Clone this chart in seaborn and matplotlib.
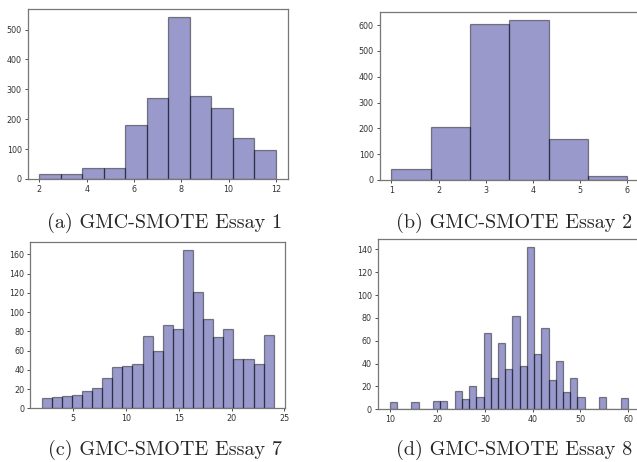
import matplotlib
matplotlib.use("Agg")
import matplotlib.pyplot as plt
import seaborn as sns

# Essay 1: Scores 2..12, eine Klasse pro Score
essay1_scores = [2, 3, 4, 5, 6, 7, 8, 9, 10, 11, 12]
essay1_counts = [15, 15, 36, 36, 181, 272, 541, 277, 238, 137, 97]

# Essay 2: Scores 1..6
essay2_scores = [1, 2, 3, 4, 5, 6]
essay2_counts = [42, 207, 603, 621, 157, 15]

# Essay 7: Scores 2..24
essay7_scores = list(range(2, 25))
essay7_counts = [11, 12, 13, 14, 18, 21, 32, 43, 44, 46, 75, 60,
                 87, 83, 165, 121, 93, 74, 83, 51, 51, 46, 76]

# Essay 8: Scores 10..60 (33 bins)
essay8_scores = [10, 15, 20, 21, 25, 26, 28, 29, 31, 32, 34, 35, 37, 38,
                 40, 41, 43, 44, 46, 47, 49, 50, 55, 60]
essay8_counts = [6, 6, 7, 7, 16, 9, 20, 11, 67, 27, 58, 35, 82, 38,
                 142, 48, 71, 26, 42, 15, 27, 11, 11, 10]

captions = ["(a) GMC-SMOTE Essay 1", "(b) GMC-SMOTE Essay 2",
            "(c) GMC-SMOTE Essay 7", "(d) GMC-SMOTE Essay 8"]

sns.set_theme(style="ticks")
plt.rcParams.update({
    "font.family": ["DejaVu Sans"],
    "xtick.labelsize": 5.8,
    "ytick.labelsize": 5.8,
    "xtick.color": "#333333",
    "ytick.color": "#333333",
    "xtick.major.size": 2.2,
    "ytick.major.size": 2.2,
    "xtick.major.width": 0.6,
    "ytick.major.width": 0.6,
    "xtick.major.pad": 2,
    "ytick.major.pad": 2,
    "axes.edgecolor": "#777777",
    "axes.linewidth": 0.9,
})

fig = plt.figure(figsize=(6.37, 4.62), dpi=100)

panels = [
    (essay1_scores, essay1_counts, 11, (2, 12), [0.0432, 0.6126, 0.4086, 0.3673]),
    (essay2_scores, essay2_counts, 6, (1, 6), [0.5958, 0.6104, 0.4074, 0.3643]),
    (essay7_scores, essay7_counts, 23, (2, 24), [0.0471, 0.1162, 0.4009, 0.3606]),
    (essay8_scores, essay8_counts, 33, (10, 60), [0.5931, 0.1141, 0.4115, 0.3686]),
]

for scores, counts, nbins, rng, rect in panels:
    ax = fig.add_axes(rect)
    sns.histplot(x=scores, weights=counts, bins=nbins, binrange=rng, ax=ax,
                 color="#000080", alpha=0.4, edgecolor=(0, 0, 0, 0.45),
                 linewidth=0.9)
    ax.set_ylabel("")
    ax.set_xlabel("")

# Bildunterschriften
cap_font = ["cmr10", "DejaVu Serif"]
for i, (cx, by) in enumerate([(0.259, 227.5), (0.807, 227.5),
                              (0.259, 454.5), (0.807, 454.5)]):
    fig.text(cx, 1 - by / 462, captions[i], ha="center", va="baseline",
             fontsize=14.5, family=cap_font)

fig.savefig("out.png", dpi=100)
plt.close(fig)
